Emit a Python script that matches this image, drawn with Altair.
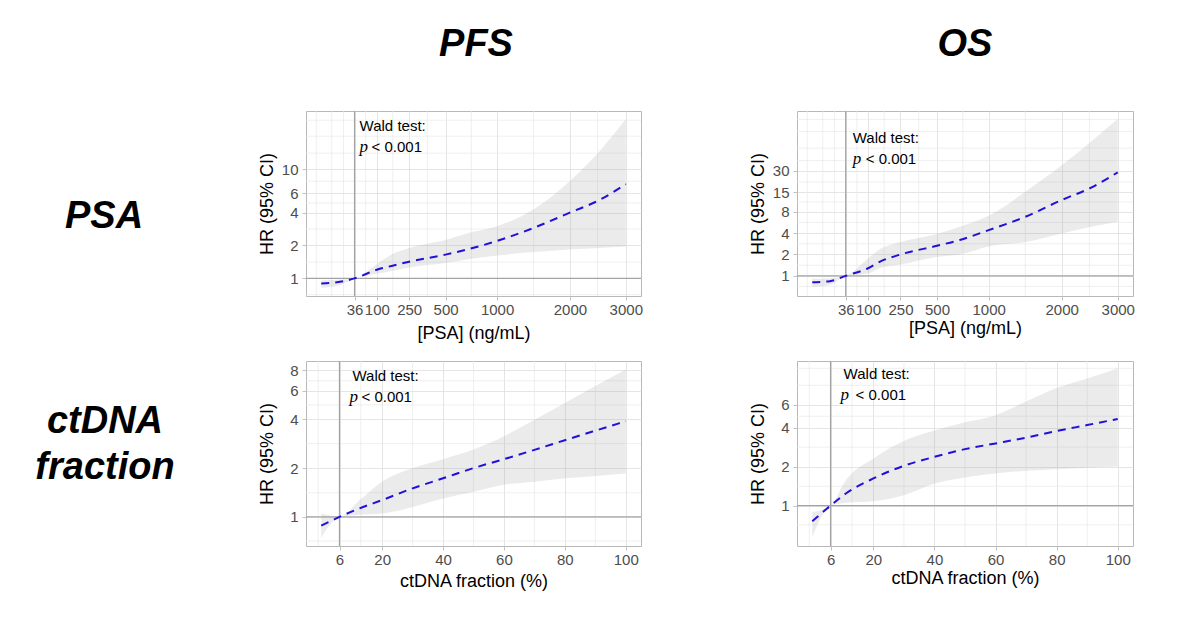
import altair as alt
import pandas as pd

# ---- PSA, PFS ----
psa_x_pfs = [0, 8, 36, 100, 160, 250, 500, 700, 1000, 1460, 2000, 2500, 3000]
psa_fit_pfs = [0.9, 0.92, 1.0, 1.2, 1.3, 1.42, 1.65, 1.85, 2.2, 2.9, 4.0, 5.2, 7.3]
psa_hi_pfs = [0.96, 0.97, 1.0, 1.35, 1.65, 1.9, 2.25, 2.6, 3.0, 4.3, 7.8, 14.5, 28.6]
psa_lo_pfs = [0.82, 0.85, 1.0, 1.1, 1.17, 1.26, 1.38, 1.5, 1.62, 1.74, 1.84, 1.9, 1.96]

# ---- PSA, OS ----
psa_x_os = [0, 10, 36, 100, 150, 250, 500, 700, 1000, 1460, 2000, 2500, 3000]
psa_fit_os = [0.81, 0.84, 1.0, 1.28, 1.6, 2.0, 2.65, 3.2, 4.4, 6.8, 11.7, 17.5, 28.7]
psa_hi_os = [0.91, 0.92, 1.0, 1.75, 2.4, 3.0, 3.9, 4.9, 7.0, 15.3, 36, 78, 162]
psa_lo_os = [0.70, 0.74, 1.0, 1.08, 1.3, 1.45, 1.85, 2.0, 2.6, 3.0, 3.96, 4.9, 5.8]

# ---- ctDNA, PFS ----
ct_x_pfs = [0, 6, 12.6, 20, 30, 40, 50, 60, 70, 80, 90, 100]
ct_fit_pfs = [0.884, 1.0, 1.13, 1.27, 1.50, 1.73, 2.0, 2.27, 2.59, 2.97, 3.4, 3.89]
ct_hi_pfs = [1.05, 1.0, 1.27, 1.65, 2.0, 2.27, 2.6, 3.14, 3.97, 5.04, 6.4, 8.1]
ct_lo_pfs = [0.745, 1.0, 1.03, 1.05, 1.15, 1.30, 1.43, 1.58, 1.65, 1.73, 1.79, 1.85]

# ---- ctDNA, OS ----
ct_x_os = [0, 6, 11, 20, 30, 40, 50, 60, 70, 80, 90, 100]
ct_fit_os = [0.757, 1.0, 1.24, 1.62, 2.03, 2.38, 2.73, 3.02, 3.35, 3.77, 4.19, 4.67]
ct_hi_os = [0.89, 1.0, 1.57, 2.31, 3.15, 3.8, 4.4, 5.0, 6.36, 8.1, 9.6, 11.5]
ct_lo_os = [0.57, 1.0, 1.05, 1.08, 1.2, 1.48, 1.65, 1.77, 1.86, 1.91, 1.96, 2.0]

# axis breaks and grid lines
psa_ticks = [36, 100, 250, 500, 1000, 2000, 3000]
psa_minor = [-0.8, 3.6, 16, 64, 166, 364, 729, 1459, 2470]
ct_ticks = [6, 20, 40, 60, 80, 100]
ct_minor = [-1, 13, 30, 50, 70, 90]
y_ticks_psa_pfs = [1, 2, 4, 6, 10]
y_ticks_psa_os = [1, 2, 4, 8, 15, 30]
y_ticks_ct_pfs = [1, 2, 4, 6, 8]
y_ticks_ct_os = [1, 2, 4, 6]
y_minor_psa_pfs = [0.71, 1.41, 2.83, 4.9, 7.75, 14, 20, 28]
y_minor_psa_os = [0.71, 1.41, 2.83, 5.66, 11, 21, 42, 63, 108, 160]
y_minor_ct_pfs = [0.71, 1.41, 2.83, 4.9, 6.9]
y_minor_ct_os = [0.71, 1.41, 2.83, 4.9, 8.5, 11.5]

psa_cut = 36
ct_cut = 6

FONT = "Liberation Sans"
BLUE = "#2010d8"
REF = "#a3a3a3"


def panel(x, fit, lo, hi, xscale, ydomain, xticks, yticks, xminor, yminor,
          cut, xtitle, w, h, note_dx, note_y, p_dx, lt_dx, xtitle_y):
    xs = alt.Scale(nice=False, zero=False, **xscale)
    ys = alt.Scale(type="log", domain=ydomain, nice=False, zero=False)
    xax = alt.Axis(values=xticks, format="d", title=xtitle, grid=True,
                   titleX=w / 2, titleY=xtitle_y, titleBaseline="middle")
    yax = alt.Axis(values=yticks, format="d", title="HR (95% CI)", grid=True,
                   titleX=-39, titleY=h / 2, titleBaseline="middle")

    def X(f):
        return alt.X(f, type="quantitative", scale=xs, axis=xax)

    def Y(f):
        return alt.Y(f, type="quantitative", scale=ys, axis=yax)

    df = pd.DataFrame({"x": x, "fit": fit, "lo": lo, "hi": hi})

    minor_x = alt.Chart(pd.DataFrame({"x": xminor})).mark_rule(
        color="#e8e8e8", strokeWidth=0.7).encode(x=X("x"))
    minor_y = alt.Chart(pd.DataFrame({"y": yminor})).mark_rule(
        color="#e8e8e8", strokeWidth=0.7).encode(y=Y("y"))

    band = alt.Chart(df).mark_area(
        color="#999999", opacity=0.2, interpolate="monotone"
    ).encode(x=X("x"), y=Y("lo"), y2="hi:Q")

    vref = alt.Chart(pd.DataFrame({"x": [cut]})).mark_rule(
        color=REF, strokeWidth=1.3).encode(x=X("x"))
    href = alt.Chart(pd.DataFrame({"y": [1]})).mark_rule(
        color=REF, strokeWidth=1.3).encode(y=Y("y"))

    line = alt.Chart(df).mark_line(
        color=BLUE, strokeWidth=2, strokeDash=[8, 6], interpolate="monotone"
    ).encode(x=X("x"), y=Y("fit"))

    cut_df = pd.DataFrame({"x": [cut]})
    wald = alt.Chart(cut_df).mark_text(
        text="Wald test:", font=FONT, fontSize=15, align="left",
        baseline="alphabetic", dx=note_dx, color="black"
    ).encode(x=X("x"), y=alt.value(note_y))
    p_it = alt.Chart(cut_df).mark_text(
        text="p", font="Liberation Serif", fontStyle="italic", fontSize=17,
        align="left", baseline="alphabetic", dx=p_dx, color="black"
    ).encode(x=X("x"), y=alt.value(note_y + 21))
    p_val = alt.Chart(cut_df).mark_text(
        text="< 0.001", font=FONT, fontSize=15, align="left",
        baseline="alphabetic", dx=p_dx + lt_dx, color="black"
    ).encode(x=X("x"), y=alt.value(note_y + 21))

    return alt.layer(minor_x, minor_y, band, vref, href, line,
                     wald, p_it, p_val).properties(width=w, height=h)


def label(lines, w, h, cx, baselines, size=38):
    layers = []
    for txt, by in zip(lines, baselines):
        layers.append(
            alt.Chart(alt.Data(values=[{}])).mark_text(
                text=txt, font=FONT, fontSize=size, fontWeight="bold",
                fontStyle="italic", align="center", baseline="alphabetic",
                color="black"
            ).encode(x=alt.value(cx), y=alt.value(by))
        )
    return alt.layer(*layers).properties(
        width=w, height=h, view=alt.ViewBackground(stroke="transparent"))


W0, W1, W2 = 141, 335, 336
H0, H1 = 37, 185

psa_scale = {"type": "sqrt", "domain": [-7.5, 3307]}
ct_scale = {"type": "linear", "domain": [-5, 105]}

tl = panel(psa_x_pfs, psa_fit_pfs, psa_lo_pfs, psa_hi_pfs, psa_scale,
           [0.69, 34], psa_ticks, y_ticks_psa_pfs, psa_minor, y_minor_psa_pfs,
           psa_cut, "[PSA] (ng/mL)", W1, H1, 5, 20, 5, 12, 37)
tr = panel(psa_x_os, psa_fit_os, psa_lo_os, psa_hi_os, psa_scale,
           [0.52, 210], psa_ticks, y_ticks_psa_os, psa_minor, y_minor_psa_os,
           psa_cut, "[PSA] (ng/mL)", W2, H1, 7, 32, 7, 13, 32)
bl = panel(ct_x_pfs, ct_fit_pfs, ct_lo_pfs, ct_hi_pfs, ct_scale,
           [0.662, 9.14], ct_ticks, y_ticks_ct_pfs, ct_minor, y_minor_ct_pfs,
           ct_cut, "ctDNA fraction (%)", W1, H1, 13, 20, 10, 12, 35)
br = panel(ct_x_os, ct_fit_os, ct_lo_os, ct_hi_os, ct_scale,
           [0.487, 13.1], ct_ticks, y_ticks_ct_os, ct_minor, y_minor_ct_os,
           ct_cut, "ctDNA fraction (%)", W2, H1, 13, 18, 10, 15, 32)

blank = label([" "], W0, H0, 10, [30], size=10)
hdr_pfs = label(["PFS"], W1, H0, 170, [47])
hdr_os = label(["OS"], W2, H0, 168, [47])
lab_psa = label(["PSA"], W0, H1, 95, [117])
lab_ct = label(["ctDNA", "fraction"], W0, H1, 96, [72, 118])

chart = alt.concat(
    blank, hdr_pfs, hdr_os,
    lab_psa, tl, tr,
    lab_ct, bl, br,
    columns=3, spacing={"row": 65, "column": 156},
    bounds="flush", align="each",
).properties(
    padding=0
).configure_view(
    stroke="#b8b8b8", strokeWidth=1
).configure_axis(
    labelFont=FONT, labelFontSize=15, labelColor="#4d4d4d",
    titleFont=FONT, titleFontSize=18, titleFontWeight="normal",
    titleColor="black", tickColor="#b3b3b3", tickSize=4, tickWidth=0.8,
    domain=False, gridColor="#dedede", gridWidth=0.8,
    labelOverlap=False, labelFlush=False, labelPadding=2
).configure_axisY(
    labelPadding=4
)

chart.save("out.html", embed_options={"renderer": "svg", "actions": False})
